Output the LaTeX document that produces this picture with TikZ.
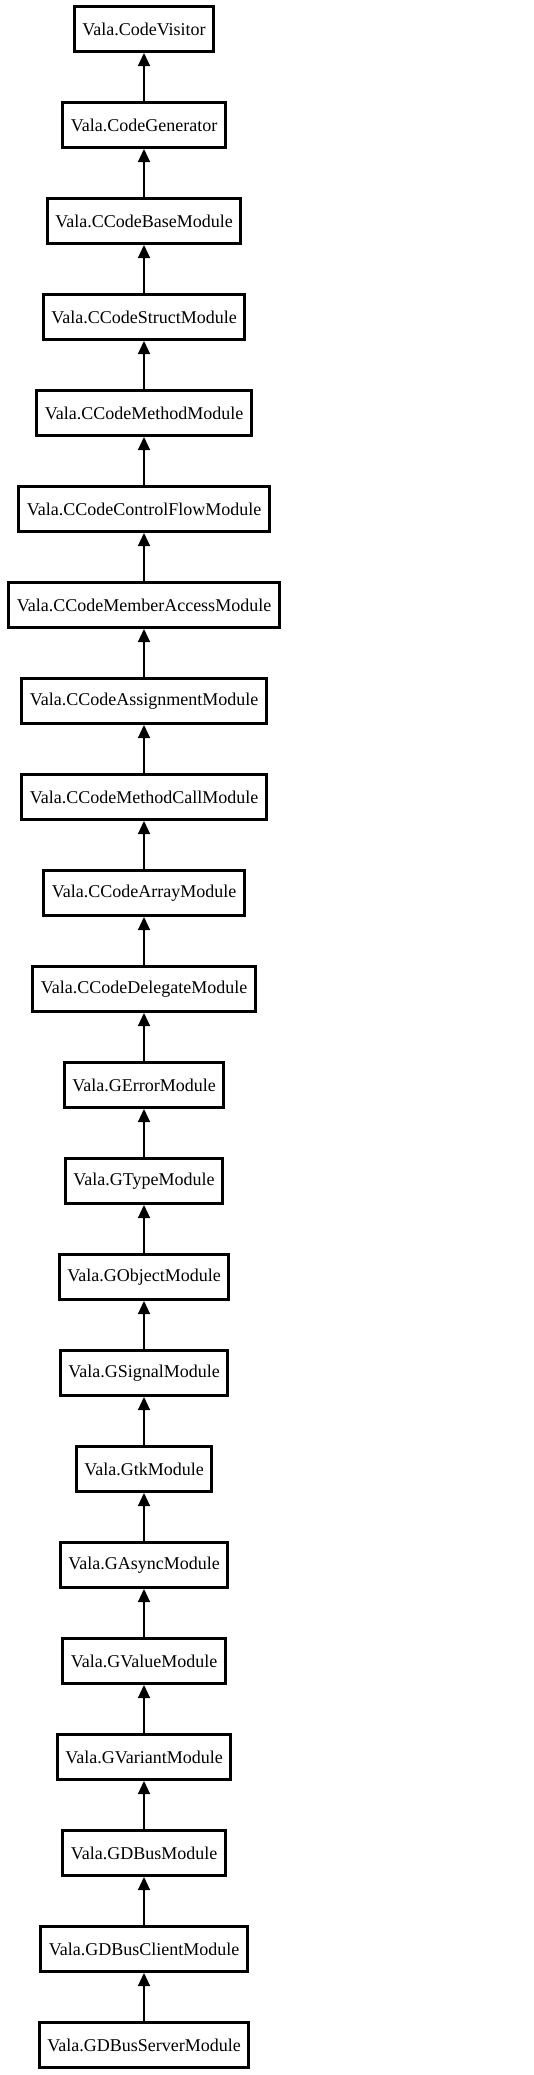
\documentclass[tikz,border=0pt]{standalone}
\usepackage{fontspec}
\setmainfont{Liberation Serif}
\usetikzlibrary{positioning,arrows.meta}

\begin{document}
\begin{tikzpicture}[x=1pt,y=1pt,node distance=48pt]
  \tikzstyle{every node}=[font=\fontsize{18}{20}\selectfont]
  \tikzstyle{class}=[draw, rectangle, line width=3pt, minimum height=45pt, inner xsep=8pt, fill=white]
  \tikzstyle{inherit}=[line width=1.3pt, -{Triangle[width=12pt,length=13pt]}]
  \useasboundingbox (0,0) rectangle (533,-2075);

  \node[class] (visitor) at (144,-29) {Vala.CodeVisitor};
  \node[class, below=of visitor] (generator) {Vala.CodeGenerator};
  \node[class, below=of generator] (base) {Vala.CCodeBaseModule};
  \node[class, below=of base] (struct) {Vala.CCodeStructModule};
  \node[class, below=of struct] (method) {Vala.CCodeMethodModule};
  \node[class, below=of method] (controlflow) {Vala.CCodeControlFlowModule};
  \node[class, below=of controlflow] (memberaccess) {Vala.CCodeMemberAccessModule};
  \node[class, below=of memberaccess] (assignment) {Vala.CCodeAssignmentModule};
  \node[class, below=of assignment] (methodcall) {Vala.CCodeMethodCallModule};
  \node[class, below=of methodcall] (array) {Vala.CCodeArrayModule};
  \node[class, below=of array] (delegate) {Vala.CCodeDelegateModule};
  \node[class, below=of delegate] (gerror) {Vala.GErrorModule};
  \node[class, below=of gerror] (gtype) {Vala.GTypeModule};
  \node[class, below=of gtype] (gobject) {Vala.GObjectModule};
  \node[class, below=of gobject] (gsignal) {Vala.GSignalModule};
  \node[class, below=of gsignal] (gtk) {Vala.GtkModule};
  \node[class, below=of gtk] (gasync) {Vala.GAsyncModule};
  \node[class, below=of gasync] (gvalue) {Vala.GValueModule};
  \node[class, below=of gvalue] (gvariant) {Vala.GVariantModule};
  \node[class, below=of gvariant] (gdbus) {Vala.GDBusModule};
  \node[class, below=of gdbus] (dbusclient) {Vala.GDBusClientModule};
  \node[class, below=of dbusclient] (dbusserver) {Vala.GDBusServerModule};

  % each module derives from the one above it
  \foreach \sub/\super in {generator/visitor, base/generator, struct/base,
      method/struct, controlflow/method, memberaccess/controlflow,
      assignment/memberaccess, methodcall/assignment, array/methodcall,
      delegate/array, gerror/delegate, gtype/gerror, gobject/gtype,
      gsignal/gobject, gtk/gsignal, gasync/gtk, gvalue/gasync,
      gvariant/gvalue, gdbus/gvariant, dbusclient/gdbus, dbusserver/dbusclient}
    \draw[inherit] (\sub) -- (\super);
\end{tikzpicture}
\end{document}
